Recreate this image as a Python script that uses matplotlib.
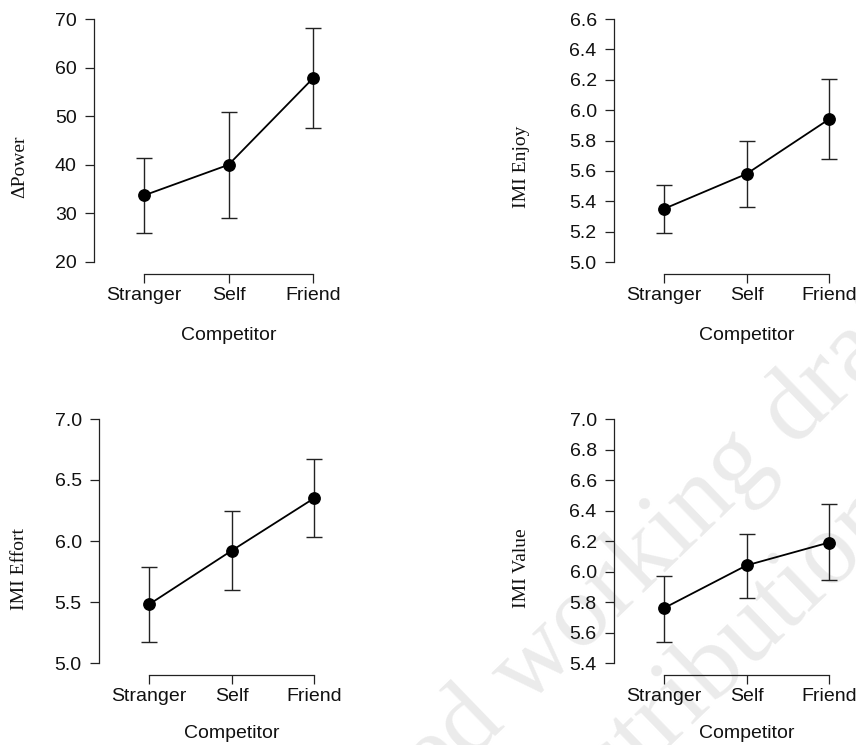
import matplotlib
matplotlib.use("Agg")
import matplotlib.pyplot as plt

# ---------------- data ----------------
categories = ["Stranger", "Self", "Friend"]

power_mean = [33.7, 40.0, 57.8]
power_low = [26.0, 29.0, 47.5]
power_high = [41.3, 50.9, 68.1]

enjoy_mean = [5.35, 5.58, 5.94]
enjoy_low = [5.19, 5.36, 5.68]
enjoy_high = [5.51, 5.795, 6.205]

effort_mean = [5.48, 5.92, 6.35]
effort_low = [5.17, 5.595, 6.03]
effort_high = [5.79, 6.245, 6.67]

value_mean = [5.76, 6.04, 6.19]
value_low = [5.54, 5.825, 5.945]
value_high = [5.97, 6.245, 6.44]

ylabels = ["\u0394Power", "IMI Enjoy", "IMI Effort", "IMI Value"]
yticks_power = [20, 30, 40, 50, 60, 70]
yticks_enjoy = [5.0, 5.2, 5.4, 5.6, 5.8, 6.0, 6.2, 6.4, 6.6]
yticks_effort = [5.0, 5.5, 6.0, 6.5, 7.0]
yticks_value = [5.4, 5.6, 5.8, 6.0, 6.2, 6.4, 6.6, 6.8, 7.0]
xlabel = "Competitor"

# ---------------- layout (pixels) ----------------
W, H = 856, 745
fig = plt.figure(figsize=(W / 100, H / 100), dpi=100)

SANS = "Liberation Sans"
SERIF = "Liberation Serif"
FS = 14

panels = [
    dict(axis_x=94, p1=144, p3=313, ytop=19, ybot=262, xline=274,
         mean=power_mean, low=power_low, high=power_high, yticks=yticks_power,
         fmt="{:.0f}", ylab=ylabels[0], ylab_x=20, ylab_y=167, xlab_y=335),
    dict(axis_x=614, p1=664, p3=829, ytop=19, ybot=262, xline=274,
         mean=enjoy_mean, low=enjoy_low, high=enjoy_high, yticks=yticks_enjoy,
         fmt="{:.1f}", ylab=ylabels[1], ylab_x=521, ylab_y=167, xlab_y=335),
    dict(axis_x=99, p1=149, p3=314, ytop=419, ybot=663, xline=675,
         mean=effort_mean, low=effort_low, high=effort_high, yticks=yticks_effort,
         fmt="{:.1f}", ylab=ylabels[2], ylab_x=20, ylab_y=569, xlab_y=734),
    dict(axis_x=614, p1=664, p3=829, ytop=419, ybot=663, xline=675,
         mean=value_mean, low=value_low, high=value_high, yticks=yticks_value,
         fmt="{:.1f}", ylab=ylabels[3], ylab_x=522, ylab_y=568, xlab_y=734),
]

for p in panels:
    right_px = p["p3"] + 30
    top_px = p["ytop"] - 10
    ax = fig.add_axes([p["axis_x"] / W, (H - p["xline"]) / H,
                       (right_px - p["axis_x"]) / W, (p["xline"] - top_px) / H])
    ax.set_facecolor("none")
    s = (p["p3"] - p["p1"]) / 2.0
    ax.set_xlim(-(p["p1"] - p["axis_x"]) / s, 2 + (right_px - p["p3"]) / s)
    vtop, vbot = p["yticks"][-1], p["yticks"][0]
    vpp = (vtop - vbot) / (p["ybot"] - p["ytop"])
    ax.set_ylim(vbot - (p["xline"] - p["ybot"]) * vpp,
                vtop + (p["ytop"] - top_px) * vpp)

    x = list(range(len(categories)))
    m = p["mean"]
    yerr = [[m[i] - p["low"][i] for i in x], [p["high"][i] - m[i] for i in x]]
    ax.errorbar(x, m, yerr=yerr, fmt="none", ecolor="#222222", elinewidth=1.0,
                capsize=5.7, capthick=1.0, clip_on=False, zorder=2)
    ax.plot(x, m, color="black", lw=1.3, marker="o", ms=8.2, mfc="black",
            mec="black", clip_on=False, zorder=3)

    for side in ["top", "right"]:
        ax.spines[side].set_visible(False)
    ax.spines["left"].set_bounds(vbot, vtop)
    ax.spines["bottom"].set_bounds(0, 2)
    for side in ["left", "bottom"]:
        ax.spines[side].set_linewidth(0.9)
        ax.spines[side].set_color("#222222")

    ax.set_xticks(x)
    ax.set_xticklabels(categories, fontfamily=SANS, fontsize=FS)
    ax.set_yticks(p["yticks"])
    ax.set_yticklabels([p["fmt"].format(v) for v in p["yticks"]],
                       fontfamily=SANS, fontsize=FS)
    ax.tick_params(axis="both", direction="out", length=6.5, width=0.9,
                   color="#222222", labelcolor="#111111")
    ax.tick_params(axis="x", pad=3.0)
    ax.tick_params(axis="y", pad=6.0)

    fig.text(p["ylab_x"] / W, 1 - p["ylab_y"] / H, p["ylab"], rotation=90,
             ha="center", va="center", fontfamily=SERIF, fontsize=14,
             color="#111111")
    p2 = (p["p1"] + p["p3"]) / 2.0
    fig.text(p2 / W, 1 - p["xlab_y"] / H, xlabel, ha="center", va="center",
             fontfamily=SANS, fontsize=FS, color="#111111")

# ---------------- watermark ----------------
wm_lines = ["Unpublished working draft.", "Not for distribution."]
wm_pos = [(521, 676), (605, 775)]
for txt, (px, py) in zip(wm_lines, wm_pos):
    fig.text(px / W, 1 - py / H, txt, rotation=44, rotation_mode="anchor",
             ha="center", va="center", fontfamily=SERIF, fontsize=75,
             color="#ebebeb", zorder=-1)

fig.savefig("out.png", dpi=100, facecolor="white")
